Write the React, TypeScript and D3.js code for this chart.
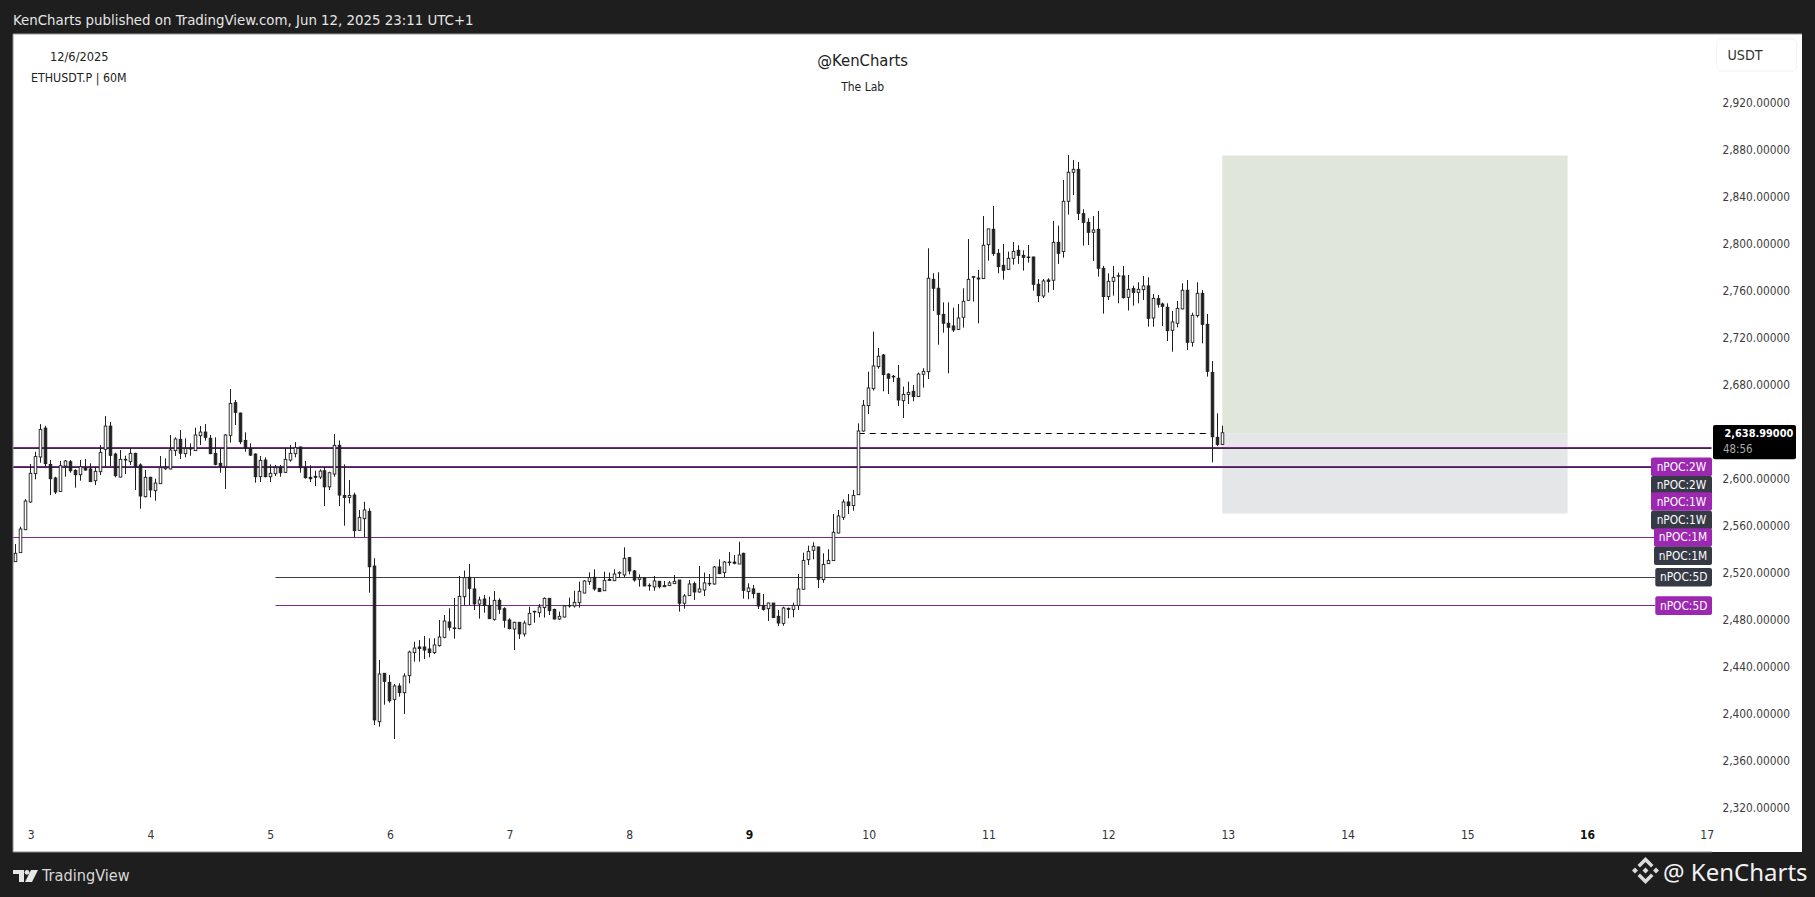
import React, { useEffect, useRef } from 'react';
import * as d3 from 'd3';

// ETHUSDT.P 60M candles
const opens = [
  2529.3,2537,2556.5,2580.1,2604.2,2618.4,2643,2612.1,2600.5,2589.1,
  2610.7,2614.4,2607,2603.3,2609,2608.2,2598.2,2605.9,2624.9,2644.7,
  2620.9,2601.3,2615.8,2614.4,2621.5,2611.6,2584.6,2601.1,2589.7,2595.7,
  2608.4,2608.2,2623.8,2633.4,2621.2,2626,2623.8,2636.5,2639.6,2634.3,
  2621.5,2613,2610.1,2636.8,2664.6,2655.8,2632.5,2625.7,2620.9,2601.6,
  2615.8,2601.6,2604.2,2609.6,2605.3,2615.8,2621.2,2626.9,2609.6,2601.1,
  2601.9,2601.3,2606.7,2593,2603.9,2628.3,2585.7,2584,2586,2556,
  2565.9,2572.1,2525.6,2393.1,2434.3,2426.6,2412.1,2423.5,2417.8,2432.3,
  2451.9,2456.7,2456.7,2455,2451.9,2457.8,2464.9,2478,2472.9,2472.3,
  2499.5,2516,2506.1,2493.3,2497.5,2492.1,2480.2,2496.4,2489.3,2479.7,
  2472,2477.7,2467.8,2475.7,2486.5,2485.9,2490.2,2498.1,2488.7,2480.5,
  2482.2,2491.6,2491.6,2494.4,2502.6,2512.3,2516,2506.6,2504.6,2514.3,
  2513.1,2519.7,2518,2532.7,2521.4,2514.3,2515.4,2509.2,2507.8,2512.6,
  2508.9,2508.9,2510.6,2513.7,2493.9,2500.4,2510.6,2503.5,2505.2,2510.6,
  2510.3,2524.8,2520,2528.7,2529,2527.3,2536.4,2503.8,2506.1,2502.4,
  2492.1,2489.3,2494.1,2482.8,2476.8,2489.6,2488.7,2492.1,2505.8,2531,
  2539,2541.8,2514,2527.6,2530.2,2553.7,2567,2580.1,2577,2586.3,
  2640.5,2662.1,2676.6,2695.3,2705.2,2689,2686.5,2685.4,2666.3,2671.5,
  2674.3,2669.8,2688.8,2691,2769.6,2762,2739.8,2732.2,2729.9,2727,
  2737.3,2751.7,2771.3,2770.7,2770.2,2799.1,2812.2,2791.7,2781.5,2778.1,
  2787.5,2794.3,2790,2788.3,2788.6,2765.4,2755.4,2769,2768.8,2801.1,
  2793.2,2836,2860.7,2863.2,2825.5,2818.1,2809.6,2812.2,2779,2754.9,
  2767.9,2772.2,2772.5,2754.3,2761.7,2758.5,2760.8,2764,2736.7,2753.2,
  2748.6,2745.8,2726.2,2732.2,2744.4,2760.3,2716,2738.7,2757.7,2731.3,
  2690.4,2635.1,2629.1,
];
const highs = [
  2544.3,2559.1,2582.6,2612.4,2622.9,2646.4,2645,2615.8,2601.6,2615,
  2615.8,2615.8,2607.9,2615.8,2616.7,2613,2609.6,2628.6,2653.2,2648.2,
  2622,2624.3,2619.5,2625.7,2622,2613,2607.3,2601.6,2599.9,2619.2,
  2617.2,2637.1,2635.1,2641.3,2634.3,2630,2643.3,2644.7,2646.4,2637.1,
  2635.1,2625.7,2637.9,2676.2,2666.9,2656.1,2639.4,2630,2621.5,2619.2,
  2618.1,2612.1,2611.6,2611.6,2625.7,2628.6,2631.1,2627.2,2615,2611.3,
  2606.7,2607.9,2609.6,2605.9,2637.9,2632.5,2612.1,2598.8,2588,2573.3,
  2580.3,2574.7,2532.2,2445.6,2434.3,2432.9,2425.2,2425.8,2434.3,2453.6,
  2461.2,2462.6,2466,2464.1,2464.1,2479.7,2483.9,2489.6,2498.4,2517.1,
  2521.7,2527.3,2516,2499.5,2500.9,2499.5,2504.3,2498.1,2490.5,2481.1,
  2478.2,2478,2479.1,2491,2487.6,2493.3,2498.9,2498.1,2489.3,2486.8,
  2492.4,2498.7,2504.6,2512.3,2513.7,2520.2,2522.8,2506.6,2520.8,2520,
  2522.8,2521.1,2541.5,2533,2522.2,2518.5,2516,2510.9,2517.1,2512.9,
  2512.9,2512.9,2518,2513.7,2501.8,2513.7,2512.3,2525.6,2520,2518.8,
  2525.6,2531.3,2529.9,2537.5,2535,2546.3,2537,2510.9,2509.5,2502.4,
  2501.8,2494.4,2494.1,2488.2,2491,2490.2,2494.4,2518.8,2537,2542.9,
  2545.8,2542.1,2536.4,2539.8,2569.9,2573.3,2582.3,2586.9,2590.3,2647,
  2666.9,2691,2725.1,2711.2,2706.1,2689.6,2688.2,2696.7,2678.3,2682.5,
  2679.7,2690.2,2693.9,2796,2774.7,2775.6,2750,2750,2745.5,2748.6,
  2762,2803.9,2772.5,2777.6,2823.5,2812.5,2832,2795.4,2799.7,2793.2,
  2801.4,2798.6,2794.3,2798.8,2788.9,2769.9,2769.9,2770.5,2819.3,2815.3,
  2854.2,2875.4,2871.2,2869.5,2829.2,2821.5,2823.5,2827.8,2781,2774.7,
  2781,2775.3,2781,2773.3,2764.2,2767.1,2772.5,2771.3,2757.1,2756.3,
  2749.8,2749.2,2742.7,2751.2,2766.2,2769,2741.2,2767.1,2760.5,2740.1,
  2700,2655.5,2645,
];
const lows = [
  2529.3,2537,2556.5,2579.5,2599.4,2613.5,2610.1,2586,2586.9,2588.6,
  2601.6,2605,2592.3,2598.2,2606.7,2597.4,2594.5,2603,2610.1,2610.7,
  2601.1,2601.1,2603.9,2611.6,2590.3,2574.4,2584,2584,2581.2,2595.4,
  2607.3,2607.9,2619.2,2616.7,2618.1,2619.5,2623.8,2628.6,2632.3,2620.9,
  2611.3,2605,2591.1,2630.6,2645.6,2629.4,2622.9,2619.2,2596.5,2597.1,
  2601.1,2597.1,2602.2,2601.6,2604.7,2614.4,2618.1,2605,2599.9,2597.1,
  2593.7,2599.6,2576.7,2590.3,2601.6,2576.7,2559.9,2578.9,2550,2555.7,
  2550,2502.9,2390.3,2388.9,2407.6,2409.3,2378.4,2414.4,2399.7,2425.8,
  2444.2,2444.2,2446.5,2447.9,2450.7,2457,2464.1,2470.6,2463.8,2471.7,
  2492.4,2492.4,2488.2,2480.8,2485.9,2480.8,2479.1,2484.8,2473.1,2471.7,
  2454.1,2463.5,2465.5,2475.1,2477.4,2481.9,2481.7,2483.9,2480.2,2479.7,
  2481.9,2490.2,2490.2,2490.2,2502.4,2509.5,2504.6,2503.8,2504.6,2513.1,
  2512.9,2516,2516,2518.5,2512.3,2508,2508.6,2504.6,2504.6,2506.6,
  2508,2508.6,2510.6,2486.8,2489.3,2500.4,2496.7,2502.9,2500.1,2508.6,
  2509.7,2518.8,2516,2525.9,2527,2527.3,2497.8,2497.3,2498.1,2489,
  2487.6,2478.8,2481.7,2474.6,2474.8,2481.1,2481.9,2488.2,2505.8,2526.5,
  2531.3,2506.9,2511.4,2527.3,2530.2,2553.4,2564.7,2569.9,2572.7,2586.3,
  2639.9,2655,2674.9,2693.6,2674.3,2672,2682.2,2661.8,2651.6,2663.5,
  2665.8,2669.8,2677.4,2684.8,2742.7,2714,2724.2,2689.6,2724.8,2726.5,
  2728.5,2751.5,2750.6,2732.2,2769.9,2785.5,2789.5,2774.7,2769.3,2777.6,
  2782.1,2782.7,2777,2783.8,2760,2750.3,2753.7,2758.3,2760.5,2782.7,
  2788,2824.7,2841.4,2820.1,2798.3,2798.8,2785.2,2771.9,2740.4,2752,
  2755.7,2749.2,2753.2,2743,2747.2,2749.2,2752,2729.3,2729.3,2745.5,
  2729.9,2717.1,2708,2728.8,2744.1,2709.5,2712.3,2737,2715.1,2686.8,
  2613.8,2627.7,2628.5,
];
const closes = [
  2536.4,2557.1,2580.9,2604.5,2618.9,2641.9,2612.7,2599.9,2588.6,2611,
  2615,2606.7,2603.3,2610.1,2607.3,2597.4,2606.2,2622.3,2644.7,2619.8,
  2602.5,2616.4,2616.4,2621.5,2610.1,2585.2,2601.1,2590.3,2596.2,2609.3,
  2609.6,2624.3,2633.7,2621.5,2625.7,2625.2,2637.1,2639.6,2635.1,2621.2,
  2612.1,2610.7,2637.1,2664,2656.4,2631.4,2625.7,2620,2601.6,2615.5,
  2601.6,2604.5,2609.3,2605,2616.4,2621.5,2626.3,2609.3,2600.8,2599.9,
  2601.1,2606.4,2593,2605,2628.3,2586,2584,2585.7,2555.7,2567,
  2573.3,2525,2394.6,2433.7,2427.5,2411,2423.5,2417.8,2432,2452.4,
  2455.8,2455.3,2454.1,2451.9,2458.4,2465.2,2478.8,2473.4,2472.3,2499.8,
  2515.7,2506.6,2493.3,2496.7,2492.1,2480.8,2496.4,2488.8,2479.4,2472.3,
  2477.7,2467.8,2477.1,2485.3,2487,2490.7,2498.1,2487.6,2480.5,2482.8,
  2491.6,2492.1,2494.7,2504.1,2512.9,2515.7,2506.1,2503.8,2513.4,2513.4,
  2518.8,2520,2532.2,2521.4,2513.7,2515.7,2508.6,2508.9,2512.9,2508,
  2508,2511.2,2512.6,2493.9,2500.1,2510.3,2503.5,2506.1,2511.2,2510.9,
  2524.8,2519.1,2529,2529,2527.9,2535,2504.9,2506.9,2502.1,2491.6,
  2488.7,2494.1,2481.7,2477.1,2489.9,2488.7,2492.1,2506.1,2530.4,2538.1,
  2542.4,2514.3,2527,2530.4,2554.3,2568.2,2580.1,2577,2585.7,2640.5,
  2662.4,2677.1,2695.9,2704.1,2688.5,2685.4,2687.1,2666.9,2671.7,2673.4,
  2669.8,2689,2691.3,2770.5,2762,2739.8,2732.2,2728.8,2726.5,2736.7,
  2750.9,2769.6,2771.9,2769.9,2798.6,2812.5,2791.5,2780.4,2777.3,2787.5,
  2793.4,2790,2788.3,2788.6,2765.4,2755.7,2768.2,2767.9,2801.1,2791.7,
  2836,2860.7,2863.2,2825.8,2818.1,2809.6,2811.6,2779,2754.9,2767.9,
  2771.3,2772.7,2754,2761.1,2758.5,2761.1,2764,2736.4,2753.4,2748.3,
  2746.6,2725.9,2733.3,2744.9,2760.3,2716,2739,2757.7,2731.3,2691.3,
  2635.6,2629.1,2638.99,
];

// first candle sits 3 hours before the "3" tick
const firstCandleDay = 3 - 3 / 24;

const priceTicks = [2320, 2360, 2400, 2440, 2480, 2520, 2560, 2600, 2640, 2680, 2720, 2760, 2800, 2840, 2880, 2920];
const dayTicks = [3, 4, 5, 6, 7, 8, 9, 10, 11, 12, 13, 14, 15, 16, 17];
const boldDays = [9, 16];

// nPOC levels
const levelPrices = [2626.3, 2609.9, 2550, 2516, 2492.1];
const levelKinds = ['both', 'both', 'purple', 'dark', 'purple'];
const levelStartDays = [2.855, 2.855, 2.855, 5.045, 5.045];
const levelEndDays = [17.04, 16.54, 16.58, 16.57, 16.57];

const labelTexts = ['nPOC:2W', 'nPOC:2W', 'nPOC:1W', 'nPOC:1W', 'nPOC:1M', 'nPOC:1M', 'nPOC:5D', 'nPOC:5D'];
const labelPrices = [2610, 2594.4, 2580.5, 2564.7, 2549.9, 2534.4, 2516, 2491.9];
const labelKinds = ['purple', 'dark', 'purple', 'dark', 'purple', 'dark', 'dark', 'purple'];

// long position tool
const entryPrice = 2638.5;
const targetPrice = 2875;
const stopPrice = 2570.3;
const currentPrice = 2638.99;
const countdown = '48:56';

const FONT = "'DejaVu Sans', sans-serif";
const PURPLE = '#9c27b0';
const LINE_PURPLE = '#7b2a8c';
const DARK = '#363a45';

const App: React.FC = () => {
  const svgRef = useRef<SVGSVGElement>(null);

  useEffect(() => {
    if (!svgRef.current) return;
    const svg = d3.select(svgRef.current);
    svg.selectAll('*').remove();

    const x = d3.scaleLinear().domain([3, 17]).range([30.7, 1706.7]);
    const y = d3.scaleLinear().domain([2600, 2920]).range([478.6, 102.6]);
    const xFromCandle = (i: number) => x(firstCandleDay + i / 24);
    const crisp = (v: number) => Math.round(v - 0.5) + 0.5;

    // frame and pane
    svg.append('rect').attr('width', 1815).attr('height', 897).attr('fill', '#1e1e1e');
    svg.append('rect').attr('x', 13).attr('y', 34).attr('width', 1789).attr('height', 818).attr('fill', '#ffffff');
    svg.append('line').attr('x1', 13).attr('x2', 1712).attr('y1', 852).attr('y2', 852).attr('stroke', '#8a8a8a').attr('stroke-width', 1.2);
    svg.append('line').attr('x1', 13).attr('x2', 13).attr('y1', 34).attr('y2', 852).attr('stroke', '#8a8a8a').attr('stroke-width', 1);
    svg.append('line').attr('x1', 13).attr('x2', 1802).attr('y1', 34).attr('y2', 34).attr('stroke', '#9a9a9a').attr('stroke-width', 1);

    // header / footer text
    const text = (tx: number, ty: number, s: string, size: number, fill: string, anchor = 'start', weight = 'normal', family = FONT, stretch = 'condensed') =>
      svg.append('text')
        .attr('x', tx).attr('y', ty)
        .attr('dominant-baseline', 'central')
        .attr('text-anchor', anchor)
        .attr('font-family', family)
        .attr('font-size', size)
        .attr('font-weight', weight)
        .attr('font-stretch', stretch)
        .attr('fill', fill)
        .text(s);

    text(13, 19.5, 'KenCharts published on TradingView.com, Jun 12, 2025 23:11 UTC+1', 14.85, '#e6e6e6');
    text(50, 56, '12/6/2025', 12.7, '#222222');
    text(31, 77.5, 'ETHUSDT.P | 60M', 12.3, '#222222');
    text(862.7, 60, '@KenCharts', 16.5, '#222222', 'middle');
    text(862.7, 86.5, 'The Lab', 12, '#222222', 'middle');
    text(42, 875, 'TradingView', 16.2, '#d8d8d8');
    text(1663, 871, '@ KenCharts', 24, '#f2f2f2', 'start', 'normal', "'Noto Sans', sans-serif", 'normal');

    // TradingView mark
    const tvMark = svg.append('g').attr('fill', '#e6e6e6');
    tvMark.append('path').attr('d', 'M13 870h11v12h-5v-8h-6z');
    tvMark.append('circle').attr('cx', 27).attr('cy', 872.3).attr('r', 2.4);
    tvMark.append('path').attr('d', 'M31 870h7l-6 12h-7z');

    // exchange mark
    const markScale = d3.scaleLinear().domain([-1, 1]).range([-13.5, 13.5]);
    const mark = svg.append('g').attr('transform', 'translate(1645.5,870.5)').attr('fill', '#dcdcdc');
    const diamond = (cx: number, cy: number, r: number) =>
      mark.append('path').attr('d', `M${markScale(cx)} ${markScale(cy) - r}L${markScale(cx) + r} ${markScale(cy)}L${markScale(cx)} ${markScale(cy) + r}L${markScale(cx) - r} ${markScale(cy)}Z`);
    diamond(-0.78, 0, 3);
    diamond(0.78, 0, 3);
    diamond(0, 0, 3);
    mark.append('path').attr('d', 'M0 -13.5L8 -5.5L5.5 -3L0 -8.5L-5.5 -3L-8 -5.5Z');
    mark.append('path').attr('d', 'M0 13.5L8 5.5L5.5 3L0 8.5L-5.5 3L-8 5.5Z');

    // USDT box
    svg.append('rect').attr('x', 1716.7).attr('y', 39).attr('width', 80).attr('height', 32).attr('rx', 5)
      .attr('fill', '#ffffff').attr('stroke', '#f0f3fa');
    text(1745, 55, 'USDT', 14.2, '#333333', 'middle');

    // position tool
    const boxLeft = xFromCandle(242) - 0.6;
    const boxRight = 1567.6;
    svg.append('rect').attr('x', boxLeft).attr('y', y(targetPrice)).attr('width', boxRight - boxLeft)
      .attr('height', y(entryPrice) - y(targetPrice)).attr('fill', '#e1e6db');
    svg.append('rect').attr('x', boxLeft).attr('y', y(entryPrice)).attr('width', boxRight - boxLeft)
      .attr('height', y(stopPrice) - y(entryPrice)).attr('fill', '#e5e6e8');

    // dashed entry line
    svg.append('line')
      .attr('x1', xFromCandle(169)).attr('x2', xFromCandle(240) - 1)
      .attr('y1', crisp(y(entryPrice))).attr('y2', crisp(y(entryPrice)))
      .attr('stroke', '#000000').attr('stroke-width', 1).attr('stroke-dasharray', '6 5');

    // nPOC lines
    levelPrices.forEach((p, i) => {
      const x1 = x(levelStartDays[i]);
      const x2 = x(levelEndDays[i]);
      const kind = levelKinds[i];
      const ly = Math.round(y(p));
      if (kind === 'both') {
        svg.append('line').attr('x1', x1).attr('x2', x2).attr('y1', ly - 0.5).attr('y2', ly - 0.5).attr('stroke', LINE_PURPLE).attr('stroke-width', 1);
        svg.append('line').attr('x1', x1).attr('x2', x2).attr('y1', ly + 0.5).attr('y2', ly + 0.5).attr('stroke', '#3a2a48').attr('stroke-width', 1);
      } else {
        svg.append('line').attr('x1', x1).attr('x2', x2).attr('y1', ly + 0.5).attr('y2', ly + 0.5)
          .attr('stroke', kind === 'purple' ? LINE_PURPLE : '#3c3f48').attr('stroke-width', 1);
      }
    });

    // candles
    const candles = svg.append('g');
    const ink = '#1f1f1f';
    opens.forEach((open, i) => {
      const close = closes[i];
      const cx = crisp(xFromCandle(i));
      const up = close >= open;
      candles.append('line')
        .attr('x1', cx).attr('x2', cx)
        .attr('y1', y(highs[i])).attr('y2', y(lows[i]))
        .attr('stroke', ink).attr('stroke-width', 1);
      const top = y(Math.max(open, close));
      const h = Math.max(Math.abs(y(open) - y(close)), 0.6);
      candles.append('rect')
        .attr('x', cx - 1.3).attr('y', top)
        .attr('width', 2.6).attr('height', h)
        .attr('fill', up ? '#ffffff' : ink)
        .attr('stroke', ink).attr('stroke-width', 0.9);
    });

    // price axis
    const yAxis = d3.axisRight(y)
      .tickValues(priceTicks)
      .tickFormat((d) => d3.format(',.5f')(d as number))
      .tickSize(0)
      .tickPadding(0);
    const yG = svg.append('g').attr('transform', 'translate(1722.5,0)').call(yAxis);
    yG.select('.domain').remove();
    yG.selectAll('text')
      .attr('font-family', FONT).attr('font-stretch', 'condensed').attr('font-size', 11.8).attr('fill', '#3c3c3c');

    // day axis
    const xAxis = d3.axisBottom(x)
      .tickValues(dayTicks)
      .tickFormat((d) => String(d))
      .tickSize(0)
      .tickPadding(0);
    const xG = svg.append('g').attr('transform', 'translate(0,830)').call(xAxis);
    xG.select('.domain').remove();
    xG.selectAll<SVGTextElement, number>('text')
      .attr('font-family', FONT).attr('font-stretch', 'condensed').attr('font-size', 12)
      .attr('fill', (d) => (boldDays.includes(d) ? '#111111' : '#333333'))
      .attr('font-weight', (d) => (boldDays.includes(d) ? 'bold' : 'normal'));

    // level labels
    const labelWidths: Record<string, number> = { W: 61, M: 58, D: 56.7 };
    labelTexts.forEach((t, i) => {
      const w = labelWidths[t[t.length - 1]];
      const cy = y(labelPrices[i]);
      svg.append('rect')
        .attr('x', 1712 - w).attr('y', cy - 9.3).attr('width', w).attr('height', 18.6).attr('rx', 2)
        .attr('fill', labelKinds[i] === 'purple' ? PURPLE : DARK);
      text(1712 - w / 2, cy, t, 11.8, '#ffffff', 'middle');
    });

    // last price box
    svg.append('rect').attr('x', 1713).attr('y', 425).attr('width', 83).attr('height', 34.3).attr('rx', 2).attr('fill', '#000000');
    text(1724.5, 433, d3.format(',.5f')(currentPrice), 10.9, '#ffffff', 'start', 'bold');
    text(1723, 449, countdown, 11.4, '#a9a9a9');
  }, []);

  return (
    <div style={{ position: 'absolute', left: 0, top: 0, width: 1815, height: 897, overflow: 'hidden' }}>
      <svg ref={svgRef} width={1815} height={897} style={{ display: 'block' }}></svg>
    </div>
  );
};

export default App;
